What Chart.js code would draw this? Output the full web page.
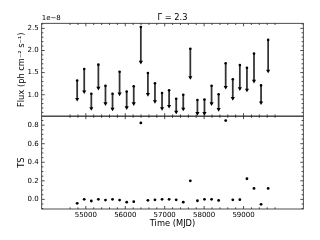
<!DOCTYPE html>
<html>
<head>
<meta charset="utf-8">
<script src="https://cdn.jsdelivr.net/npm/chart.js@4/dist/chart.umd.min.js"></script>
<style>
  html, body { margin: 0; padding: 0; background: #fff; }
  #wrap { width: 320px; height: 240px; }
</style>
</head>
<body>
<div id="wrap"><canvas id="lc"></canvas></div>
<script>
// --- DATA ---
const times = [54780, 54959, 55139, 55318, 55498, 55677, 55856, 56036, 56215, 56395,
               56574, 56753, 56933, 57112, 57292, 57471, 57650, 57830, 58009, 58189,
               58368, 58547, 58727, 58906, 59086, 59265, 59444, 59624];
// flux upper limits, units of 1e-8 ph cm^-2 s^-1
const fluxUL = [1.32, 1.58, 1.02, 1.68, 1.20, 1.02, 1.52, 1.07, 1.19, 2.53,
                1.49, 1.26, 1.04, 1.10, 0.91, 1.00, 2.04, 0.88, 0.89, 1.20,
                1.01, 1.71, 1.35, 1.67, 1.61, 1.93, 1.21, 2.24];
// where each downward arrow ends
const fluxArrowTip = [0.90, 1.07, 0.69, 1.15, 0.80, 0.68, 1.02, 0.71, 0.80, 1.74,
                      1.01, 0.85, 0.69, 0.74, 0.61, 0.68, 1.39, 0.58, 0.58, 0.80,
                      0.67, 1.17, 0.92, 1.14, 1.11, 1.31, 0.82, 1.54];
const tsValues = [-0.043, 0.0, -0.018, 0.0, -0.008, 0.0, -0.008, -0.030, -0.025, 0.824,
                  -0.010, -0.005, 0.0, 0.0, -0.005, -0.030, 0.200, -0.015, 0.0, 0.0,
                  -0.012, 0.849, -0.005, -0.003, 0.222, 0.118, -0.054, 0.118];

const timeTicks = [55000, 56000, 57000, 58000, 59000];
const fluxTicks = [1.0, 1.5, 2.0, 2.5];
const tsTicks = [0.0, 0.2, 0.4, 0.6, 0.8];

// --- PLOT ---
const FONT = 'DejaVu Sans';

// frames, inward ticks and all the free text (title, axis titles, offset)
const frameTicks = {
    id: 'frameTicks',
    afterDraw(chart) {
        const { ctx, scales: { x, yFlux, yTS } } = chart;
        ctx.save();
        ctx.strokeStyle = '#222';
        ctx.lineWidth = 0.8;

        const panels = [
            { s: yFlux, minorStep: 0.1, majors: fluxTicks },
            { s: yTS, minorStep: 0.05, majors: tsTicks }
        ];
        panels.forEach(p => {
            const ys = p.s;
            ctx.strokeRect(x.left, ys.top, x.right - x.left, ys.bottom - ys.top);
            ctx.beginPath();
            // x ticks, top and bottom edge
            for (let v = Math.ceil(x.min / 200) * 200; v <= x.max; v += 200) {
                const px = x.getPixelForValue(v);
                const len = v % 1000 === 0 ? 3 : 1.7;
                ctx.moveTo(px, ys.bottom); ctx.lineTo(px, ys.bottom - len);
                ctx.moveTo(px, ys.top); ctx.lineTo(px, ys.top + len);
            }
            // y ticks, left and right edge
            const start = Math.ceil(ys.min / p.minorStep - 1e-6);
            for (let k = start; k * p.minorStep <= ys.max; k++) {
                const v = k * p.minorStep;
                const py = ys.getPixelForValue(v);
                const isMajor = p.majors.some(m => Math.abs(m - v) < 1e-6);
                const len = isMajor ? 3 : 1.7;
                ctx.moveTo(x.left, py); ctx.lineTo(x.left + len, py);
                ctx.moveTo(x.right, py); ctx.lineTo(x.right - len, py);
            }
            ctx.stroke();
        });

        ctx.fillStyle = '#000';
        ctx.textBaseline = 'alphabetic';

        // offset text above the flux axis
        ctx.font = '7px "' + FONT + '"';
        ctx.textAlign = 'left';
        ctx.fillText('1e\u22128', x.left, yFlux.top - 3);

        const midX = (x.left + x.right) / 2;
        ctx.font = '8.3px "' + FONT + '"';
        ctx.textAlign = 'center';
        ctx.fillText('\u0393 = 2.3', midX, 20);
        ctx.fillText('Time (MJD)', midX, 225.5);

        [[yFlux, 'Flux (ph cm\u207B\u00B2 s\u207B\u00B9)'], [yTS, 'TS']].forEach(([s, label]) => {
            ctx.save();
            ctx.translate(23.8, (s.top + s.bottom) / 2);
            ctx.rotate(-Math.PI / 2);
            ctx.fillText(label, 0, 0);
            ctx.restore();
        });
        ctx.restore();
    }
};

const ulPoints = times.map((t, i) => ({ x: t, y: fluxUL[i] }));
const shafts = times.map((t, i) => ({ x: t, y: [fluxArrowTip[i], fluxUL[i]] }));
const tips = times.map((t, i) => ({ x: t, y: fluxArrowTip[i] }));
const tsPoints = times.map((t, i) => ({ x: t, y: tsValues[i] }));

new Chart(document.getElementById('lc'), {
    data: {
        datasets: [
            {
                type: 'scatter', data: ulPoints, yAxisID: 'yFlux',
                pointRadius: 1.3, pointBackgroundColor: '#000', pointBorderWidth: 0, clip: false
            },
            {
                type: 'scatter', data: tips, yAxisID: 'yFlux',
                pointStyle: 'triangle', rotation: 180, pointRadius: 2.4,
                pointBackgroundColor: '#000', pointBorderWidth: 0, clip: false
            },
            {
                type: 'bar', data: shafts, yAxisID: 'yFlux',
                backgroundColor: '#333', barThickness: 1.1, borderWidth: 0, clip: false
            },
            {
                type: 'scatter', data: tsPoints, yAxisID: 'yTS',
                pointRadius: 1.4, pointBackgroundColor: '#000', pointBorderWidth: 0, clip: false
            }
        ]
    },
    options: {
        responsive: true,
        maintainAspectRatio: false,
        animation: false,
        events: [],
        layout: { padding: { left: 0, right: 16.7, top: 23.3, bottom: 0 } },
        plugins: {
            legend: { display: false },
            tooltip: { enabled: false },
            title: { display: false }
        },
        scales: {
            x: {
                type: 'linear',
                min: 54544, max: 59852,
                afterBuildTicks: s => { s.ticks = timeTicks.map(v => ({ value: v })); },
                afterFit: s => { s.height = 31; },
                grid: { display: false, drawTicks: false },
                border: { display: false },
                ticks: {
                    color: '#000', padding: 2, maxRotation: 0, autoSkip: false,
                    font: { family: FONT, size: 7 },
                    callback: v => String(v)
                }
            },
            // the TS axis is listed first so that it lands in the lower slot of the stack
            yTS: {
                type: 'linear', position: 'left',
                stack: 'panels', stackWeight: 1,
                min: -0.104, max: 0.897,
                afterBuildTicks: s => { s.ticks = tsTicks.map(v => ({ value: v })); },
                afterFit: s => { s.width = 41.7; },
                grid: { display: false, drawTicks: false },
                border: { display: false },
                ticks: {
                    color: '#000', padding: 3,
                    font: { family: FONT, size: 7 },
                    callback: v => v.toFixed(1)
                }
            },
            yFlux: {
                type: 'linear', position: 'left',
                stack: 'panels', stackWeight: 1,
                min: 0.515, max: 2.615,
                afterBuildTicks: s => { s.ticks = fluxTicks.map(v => ({ value: v })); },
                afterFit: s => { s.width = 41.7; },
                grid: { display: false, drawTicks: false },
                border: { display: false },
                ticks: {
                    color: '#000', padding: 3,
                    font: { family: FONT, size: 7 },
                    callback: v => v.toFixed(1)
                }
            }
        }
    },
    plugins: [frameTicks]
});
</script>
</body>
</html>
